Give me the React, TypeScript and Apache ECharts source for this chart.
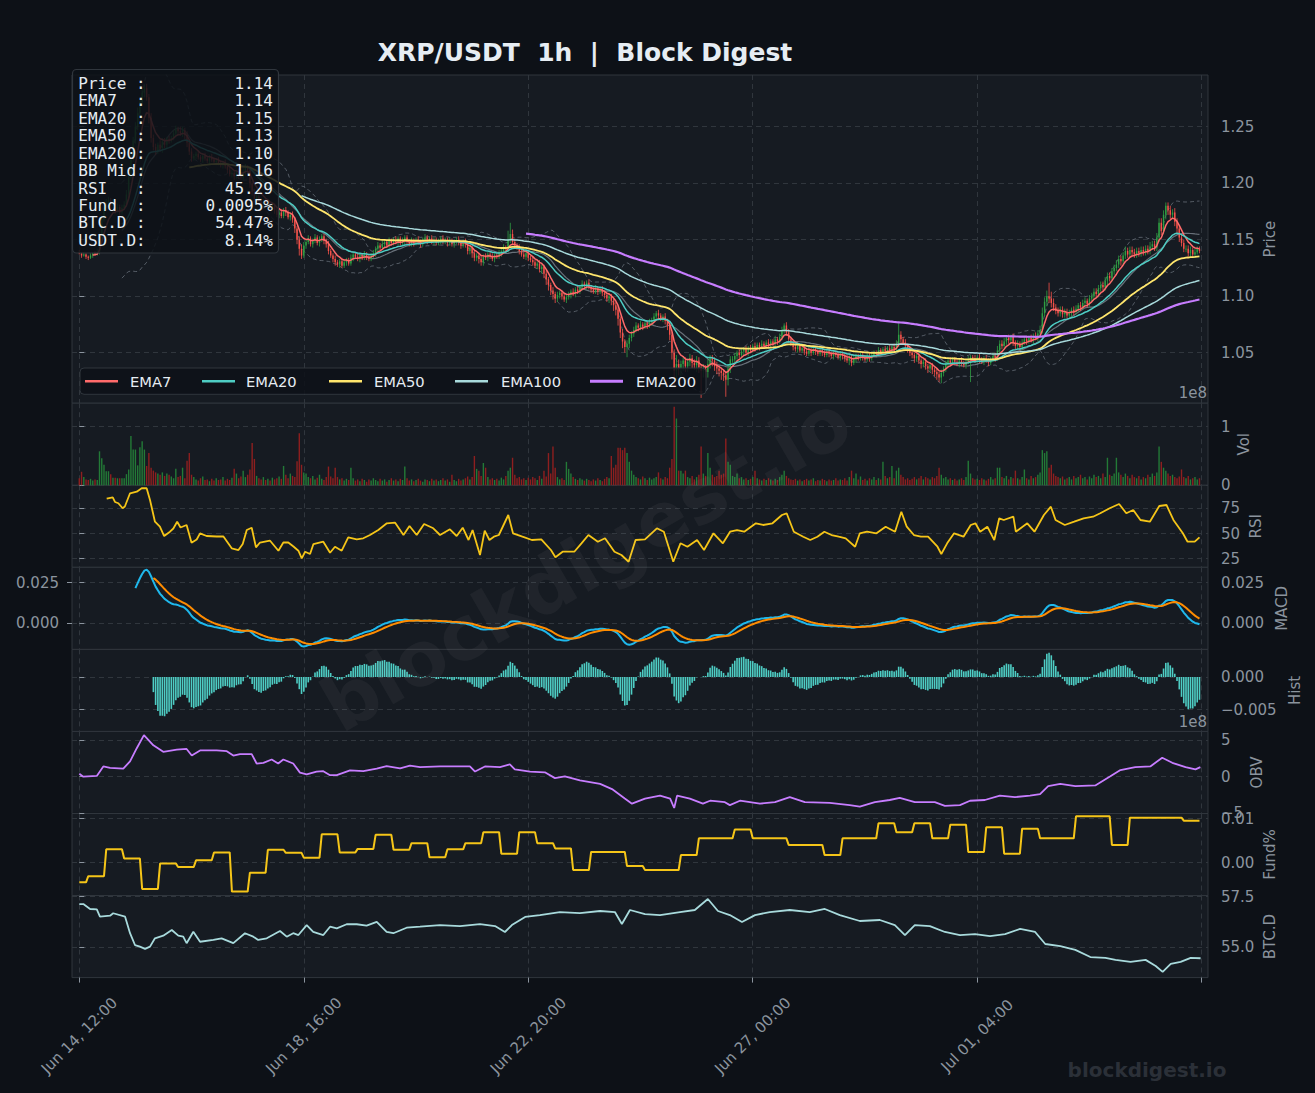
import React, { useEffect, useRef } from "react";
import * as echarts from "echarts";

// ---------------- DATA ----------------
const FIRST_OPEN = 1.139;

// hourly closes, Jun 14 12:00 onwards (index = hours)
const closes = [
  1.138, 1.136, 1.137, 1.135, 1.134, 1.136, 1.138, 1.137, 1.139, 1.152,
  1.168, 1.178, 1.182, 1.185, 1.18, 1.183, 1.176, 1.179, 1.174, 1.178,
  1.181, 1.19, 1.205, 1.222, 1.238, 1.25, 1.262, 1.272, 1.28, 1.284,
  1.276, 1.258, 1.24, 1.232, 1.229, 1.234, 1.231, 1.237, 1.234, 1.239,
  1.238, 1.24, 1.244, 1.248, 1.246, 1.244, 1.247, 1.243, 1.236, 1.228,
  1.222, 1.224, 1.226, 1.223, 1.221, 1.224, 1.222, 1.22, 1.223, 1.221,
  1.219, 1.22, 1.218, 1.216, 1.218, 1.215, 1.212, 1.208, 1.209, 1.206,
  1.21, 1.207, 1.205, 1.21, 1.214, 1.212, 1.2, 1.192, 1.186, 1.188,
  1.184, 1.182, 1.184, 1.18, 1.181, 1.178, 1.18, 1.176, 1.172, 1.174,
  1.171, 1.176, 1.174, 1.17, 1.172, 1.168, 1.16, 1.15, 1.142, 1.136,
  1.145, 1.148, 1.151, 1.146, 1.149, 1.152, 1.147, 1.15, 1.153, 1.149,
  1.146, 1.14, 1.136, 1.133, 1.13, 1.128, 1.131, 1.127, 1.13, 1.132,
  1.129, 1.134, 1.137, 1.135, 1.133, 1.136, 1.134, 1.137, 1.135, 1.133,
  1.136, 1.138, 1.142, 1.145, 1.143, 1.146, 1.148, 1.145, 1.149, 1.147,
  1.15, 1.148, 1.151, 1.147, 1.149, 1.152, 1.148, 1.146, 1.149, 1.147,
  1.15, 1.148, 1.146, 1.15, 1.152, 1.149, 1.151, 1.148, 1.15, 1.147,
  1.149, 1.151, 1.148, 1.15, 1.147, 1.149, 1.146, 1.148, 1.15, 1.147,
  1.145, 1.148, 1.146, 1.14, 1.143, 1.138, 1.134, 1.136, 1.133, 1.13,
  1.135, 1.134, 1.137, 1.135, 1.133, 1.136, 1.135, 1.138, 1.14, 1.143,
  1.142, 1.15, 1.155, 1.148, 1.145, 1.143, 1.14, 1.137, 1.135, 1.138,
  1.134, 1.132, 1.13, 1.127, 1.129, 1.124, 1.126, 1.12, 1.115, 1.11,
  1.105, 1.102, 1.098, 1.101, 1.103, 1.1, 1.097, 1.099, 1.101, 1.104,
  1.102, 1.106, 1.104, 1.108, 1.111, 1.109, 1.112, 1.108, 1.106, 1.104,
  1.107, 1.104, 1.106, 1.103, 1.101, 1.098, 1.1, 1.096, 1.092, 1.088,
  1.08, 1.068, 1.06, 1.055, 1.058, 1.063, 1.067, 1.07, 1.074, 1.072,
  1.075, 1.073, 1.076, 1.074, 1.077, 1.079, 1.082, 1.085, 1.083, 1.08,
  1.082, 1.078, 1.074, 1.066, 1.05, 1.034, 1.04, 1.036, 1.04, 1.043,
  1.038, 1.042, 1.045, 1.041, 1.039, 1.043, 1.037, 1.034, 1.036, 1.033,
  1.04, 1.045, 1.043, 1.038, 1.036, 1.034, 1.032, 1.03, 1.026, 1.036,
  1.044, 1.044, 1.047, 1.05, 1.048, 1.051, 1.053, 1.05, 1.054, 1.052,
  1.056, 1.054, 1.057, 1.055, 1.058, 1.056, 1.059, 1.057, 1.06, 1.058,
  1.062, 1.06, 1.064, 1.07, 1.074, 1.068, 1.062, 1.058, 1.055, 1.053,
  1.056, 1.052, 1.054, 1.051, 1.049, 1.052, 1.05, 1.053, 1.051, 1.049,
  1.052, 1.05, 1.048, 1.051, 1.049, 1.047, 1.05, 1.048, 1.046, 1.049,
  1.047, 1.045, 1.043, 1.046, 1.041, 1.044, 1.047, 1.045, 1.048, 1.046,
  1.044, 1.047, 1.045, 1.048, 1.05, 1.049, 1.052, 1.05, 1.053, 1.051,
  1.054, 1.052, 1.055, 1.053, 1.058, 1.066, 1.062, 1.059, 1.056, 1.053,
  1.05, 1.048, 1.045, 1.047, 1.043, 1.04, 1.042, 1.038, 1.036, 1.039,
  1.035, 1.033, 1.031, 1.028, 1.032, 1.036, 1.04, 1.043, 1.041, 1.044,
  1.042, 1.04, 1.043, 1.041, 1.039, 1.042, 1.044, 1.046, 1.045, 1.043,
  1.046, 1.044, 1.042, 1.045, 1.043, 1.041, 1.044, 1.047, 1.045, 1.052,
  1.058, 1.056, 1.06, 1.063, 1.061, 1.064, 1.059, 1.056, 1.058, 1.055,
  1.059, 1.062, 1.06, 1.063, 1.061, 1.065, 1.063, 1.067, 1.07, 1.085,
  1.095, 1.1, 1.098, 1.094, 1.09, 1.087, 1.085, 1.088, 1.084, 1.086,
  1.083, 1.085, 1.088, 1.086, 1.089, 1.092, 1.09, 1.094, 1.096, 1.093,
  1.098, 1.1, 1.104, 1.102, 1.107, 1.11, 1.108, 1.114, 1.118, 1.116,
  1.122, 1.125, 1.128, 1.133, 1.131, 1.136, 1.14, 1.137, 1.141, 1.139,
  1.137, 1.14, 1.138, 1.141, 1.139, 1.142, 1.14, 1.144, 1.146, 1.143,
  1.152, 1.165, 1.158, 1.172, 1.18, 1.176, 1.172, 1.174, 1.166, 1.16,
  1.152, 1.147, 1.142, 1.142, 1.138, 1.141, 1.137, 1.139, 1.142, 1.14,
];

// upper / lower wick length beyond the body, in 0.001
const wickHi = [
  2,1,2,1,1,2,1,2,3,4,3,2,4,3,2,3,2,3,2,3,
  3,4,3,4,3,4,5,4,4,3,4,3,4,3,3,2,4,3,3,2,
  3,2,3,3,2,4,3,2,3,2,3,2,2,3,2,2,3,2,2,3,
  2,2,3,2,2,3,2,2,3,2,2,3,3,4,3,2,3,2,3,2,
  2,3,2,3,2,2,3,2,2,3,3,2,3,2,2,3,2,2,3,4,
  3,2,3,2,2,3,2,3,2,2,2,3,2,2,3,2,2,3,2,2,
  2,3,2,2,3,2,2,3,2,2,2,3,2,3,2,3,2,2,3,2,
  2,3,2,2,3,2,2,2,3,2,2,3,2,2,3,2,2,3,2,2,
  2,2,3,2,2,3,2,2,2,3,2,2,3,2,2,2,3,2,2,3,
  2,3,2,2,3,2,2,3,2,3,2,8,10,4,3,2,3,2,2,3,
  2,2,3,2,2,3,2,2,3,2,2,3,2,3,2,2,3,2,3,2,
  3,2,3,2,3,2,2,3,2,2,3,2,2,3,2,2,3,2,2,3,
  3,2,3,2,3,3,2,3,3,2,3,2,3,2,3,2,3,2,3,2,
  2,3,2,3,2,3,8,4,3,4,3,3,4,3,3,4,3,3,4,3,
  4,3,3,3,4,3,3,3,3,4,3,3,3,2,3,3,2,3,2,3,
  2,3,2,2,3,2,2,3,2,2,3,2,3,3,2,3,3,2,2,3,
  2,2,3,2,2,3,2,2,3,2,2,3,2,2,3,2,2,2,3,2,
  2,2,3,2,2,3,2,2,2,3,2,2,3,2,2,2,3,2,2,3,
  2,3,2,3,3,10,3,2,3,2,2,3,2,2,3,2,2,3,2,2,
  2,2,3,2,3,2,3,2,3,2,2,3,2,3,2,2,3,2,2,3,
  2,3,2,2,3,2,2,3,3,4,3,3,3,2,3,2,3,2,3,2,
  3,2,3,2,3,2,3,3,4,5,4,5,12,6,4,3,3,3,3,3,
  3,3,2,3,3,2,3,3,3,2,3,3,3,3,3,3,3,3,3,3,
  3,3,4,3,3,3,4,3,3,3,3,3,3,3,3,3,3,4,3,3,
  4,4,4,4,3,3,4,3,4,3,3,3,3,3,3,3,2,3,2,2,
];
const wickLo = [
  1,2,1,2,2,1,2,1,1,2,3,2,2,3,4,2,3,2,3,2,
  2,2,3,2,3,3,3,4,3,4,3,5,4,3,4,3,3,4,3,3,
  3,2,2,3,3,2,3,4,4,3,3,2,3,2,2,3,2,2,3,2,
  2,3,2,2,3,2,3,2,3,3,2,3,2,2,3,4,4,3,3,2,
  3,2,3,2,3,2,2,3,2,3,2,2,3,2,3,3,4,4,6,3,
  2,3,2,2,3,2,2,3,2,3,3,3,2,3,3,2,3,2,2,3,
  2,2,3,2,2,3,2,2,3,2,2,2,3,2,2,2,3,2,2,2,
  2,2,3,2,2,3,2,2,2,3,2,2,3,2,2,3,2,2,3,2,
  2,3,2,2,3,2,2,3,2,2,3,2,3,3,3,4,3,3,4,3,
  3,2,3,2,2,3,2,2,3,2,2,3,3,2,3,2,3,2,2,3,
  3,2,3,2,3,3,4,4,5,5,4,5,4,3,3,3,2,3,2,3,
  2,3,2,2,3,2,3,2,3,2,2,3,2,3,3,3,4,4,5,5,
  6,5,6,5,9,4,3,3,2,3,2,3,2,3,2,3,2,3,3,2,
  3,3,4,5,6,15,8,6,7,6,5,5,4,5,4,6,5,24,6,5,
  5,4,5,4,5,5,6,5,15,5,4,3,3,3,3,2,3,2,3,2,
  2,3,2,3,2,2,3,2,3,2,2,3,2,3,3,3,3,2,3,2,
  3,2,2,3,2,2,3,2,3,2,2,3,2,2,3,2,3,2,2,3,
  3,3,2,4,3,2,3,2,2,3,2,2,3,2,2,3,2,2,2,3,
  2,2,3,2,2,3,3,2,3,3,3,3,4,3,3,4,3,3,4,3,
  4,4,5,4,5,3,3,3,3,2,3,2,3,3,2,3,2,20,3,2,
  2,3,2,3,2,3,2,2,3,2,3,3,3,3,3,3,3,3,3,3,
  3,2,3,2,2,3,2,3,2,3,3,4,4,4,3,3,3,3,3,3,
  3,2,3,3,2,3,3,2,3,3,2,3,3,3,3,3,3,3,4,3,
  3,3,3,3,4,3,3,3,3,3,3,3,3,3,3,3,3,3,3,3,
  3,4,4,3,4,4,4,3,4,4,4,3,3,3,3,3,3,3,2,2,
];

// hourly volume, millions of XRP
const volumesM = [
  12,23,14,10,9,11,8,10,9,58,46,35,24,24,19,13,13,12,12,12,
  12,19,27,84,61,61,34,65,75,61,33,55,30,25,22,20,18,22,16,20,
  18,15,12,28,14,16,30,12,42,55,18,14,10,8,12,15,9,10,7,11,
  8,12,9,10,14,8,11,9,13,28,20,12,15,25,14,18,27,72,45,16,
  12,10,14,9,11,8,13,10,12,15,11,33,18,12,20,16,14,41,89,35,
  22,20,14,12,16,10,13,18,11,9,14,32,15,12,30,14,10,12,8,11,
  9,30,12,8,10,7,11,9,6,10,8,12,9,7,11,8,10,6,9,12,
  8,10,7,11,9,32,12,8,10,7,9,11,8,6,10,9,7,11,8,10,
  7,9,12,8,10,6,18,9,7,11,8,10,12,15,10,14,50,28,25,16,
  38,30,14,10,12,9,11,8,13,10,16,25,30,47,18,12,14,10,12,9,
  13,10,14,12,9,16,11,25,15,55,20,66,30,14,10,12,9,40,28,20,
  14,11,9,12,10,8,11,9,7,10,8,12,9,7,11,14,12,50,30,35,
  64,64,60,64,55,40,25,18,14,12,10,15,12,9,13,10,12,14,22,12,
  10,14,12,30,45,134,114,25,25,20,25,14,12,16,10,14,18,66,20,16,
  55,30,18,14,16,25,18,20,80,40,35,16,14,20,12,14,10,12,9,11,
  14,25,12,10,8,11,9,12,10,8,11,9,14,18,25,16,12,10,9,11,
  8,10,7,9,11,8,10,12,7,9,8,11,9,7,10,8,9,12,8,10,
  9,12,8,14,25,12,20,10,15,9,11,8,12,10,14,9,12,10,40,16,
  12,14,33,12,25,30,18,14,10,12,9,11,14,10,12,16,10,14,12,10,
  14,12,16,30,18,12,14,10,12,9,11,8,10,12,9,14,42,20,12,10,
  11,9,12,10,8,11,14,10,12,30,30,14,12,16,10,14,12,25,12,10,
  14,27,12,10,16,12,14,18,22,60,55,58,30,35,20,16,14,12,15,10,
  12,14,10,16,12,14,18,12,14,10,15,12,18,14,16,12,20,14,47,18,
  16,20,47,22,18,14,20,16,12,18,14,12,16,10,14,12,18,14,20,16,
  22,66,40,30,25,20,16,18,14,12,15,27,14,12,16,10,12,14,10,12,
];

// RSI(14): [hour, value]
const rsiPoints = [
  [12.2,84.8],[14.9,86.2],[15.9,81.5],[17.4,80.2],[19.3,75.2],[20.3,77],[22.6,90.2],[25.6,91.8],[27.8,95.2],[30,95.2],
  [31.5,83.5],[33.7,61.8],[35.9,56.8],[37.8,47.5],[40.4,51.8],[41.9,55],[43.6,61.8],[45.1,56],[47.8,58.5],[50,40.8],
  [52.3,44],[53.8,50.2],[56.7,47.5],[61.2,47],[64.2,47],[67.9,35.2],[70.9,33.5],[72.8,39.5],[74.6,53.5],[76.8,55.8],
  [78.7,36.2],[80.5,41],[84.9,43],[88.7,32.8],[90.9,41],[93.1,41],[95.4,37],[97.6,32.8],[99.1,25.2],[100.6,31.8],
  [102.8,29.5],[104.3,39.5],[108.7,41.8],[111.7,30.8],[113.9,36.8],[116.9,32.8],[119.8,46.2],[123.6,44.2],[126.5,45.2],[129.5,48.5],
  [133.2,53.5],[137,60.2],[140.7,60.8],[144.4,48.5],[147.1,57.5],[150.3,48.5],[153.6,59.5],[157.7,55.2],[160.7,48.5],[165.1,54.2],
  [168.1,47.5],[170.8,55.8],[173.4,43.5],[175.2,53.5],[178.5,28.5],[180.6,52.8],[182.7,43.5],[184.7,46.8],[186.9,48.5],[191.1,68.5],
  [193.2,50.2],[197.4,46.8],[201.6,43.5],[205.8,44.2],[210.1,33.5],[212.1,26.2],[215.3,31.8],[220.5,31.8],[223.7,40.2],[226.8,48.5],
  [231,41.8],[234.2,45.2],[238.4,31.8],[241.5,28.5],[244.7,21.8],[247.8,43.5],[252,44.2],[257.3,55.2],[260.4,51.8],[264.6,21.8],
  [267.8,40.2],[270.9,36.8],[275.2,43.5],[278.3,33.5],[282.5,50.2],[286.7,40.2],[289.9,51.8],[293,53.5],[296.2,51.8],[301.4,60.2],
  [304.6,58.5],[308.8,60.2],[313,68.5],[315.1,70.2],[318.3,51.8],[322.5,46.8],[325.6,43.5],[328.8,46.8],[331.9,51.8],[335.1,48.5],
  [338.3,46.8],[341.4,45.2],[345.6,36.8],[347.7,50.2],[350.9,51.8],[355.1,50.2],[359.2,56.8],[363.4,51.8],[366.2,71.8],[368.6,56.8],
  [371.8,48.5],[374.9,46.8],[378.1,46.8],[382.3,36.8],[384,29.5],[386.6,40.2],[389.7,50.2],[393.9,46.8],[397.1,58.5],[399.2,60.2],
  [401.3,51.8],[404.5,56.8],[407.6,43.5],[409.8,65.2],[411.8,63.5],[416.1,66.8],[417.2,51.8],[422.3,60.2],[425.5,51.8],[429.7,68.5],
  [432.8,76.8],[434.9,63.5],[439,58.5],[443.2,61.8],[447.4,65.2],[451.6,66.8],[454.8,70.2],[459,75.2],[463.2,79.5],[466.4,70.2],
  [469.5,73.5],[472.7,63.5],[476.9,61.8],[481.1,77.5],[484.3,78.5],[487.4,63.5],[491.6,50.2],[493.7,41.8],[496.9,41.8],[499,46.2],
];

// OBV: [hour, value in 1e8]
const obvPoints = [
  [0,0.4],[1.8,0],[7.8,0.1],[10.7,1.4],[13.7,1.2],[19.6,1.1],[22.6,2.1],[25.6,3.9],[28.8,5.7],[33,4.3],
  [37.4,3.4],[43.4,3.7],[47.8,3.8],[50.1,2.9],[53.8,3.6],[61.2,3.6],[65.7,3.5],[68.6,2.9],[71.6,3.1],[76.8,3.1],
  [79,1.8],[82,1.9],[85.7,2.35],[88.6,1.8],[90.9,2.35],[95.3,1.8],[98.3,0.55],[101.3,0.3],[105.7,0.7],[108.7,0.75],
  [111.7,0.2],[114.7,0.2],[120.6,0.85],[126.5,0.75],[132.5,1.1],[136.9,1.45],[142.9,1.15],[147.3,1.5],[151.8,1.3],[160.7,1.4],
  [174,1.4],[176.3,0.7],[180.7,1.4],[187.4,1.3],[191.8,1.7],[194,1.0],[200.8,0.7],[207.4,0.6],[211.9,-0.2],[216.3,0.05],
  [223,-0.5],[232,-1.0],[237.3,-1.7],[243,-3.0],[246.2,-3.7],[252,-3.0],[258.7,-2.6],[263.2,-3.0],[265,-4.3],[266.3,-2.6],
  [272,-3.0],[277.8,-3.7],[281,-3.3],[287.6,-3.5],[289.8,-3.9],[294.3,-3.3],[303.2,-3.7],[309.9,-3.5],[316.5,-2.8],[323.2,-3.5],
  [334.3,-3.6],[343.2,-3.9],[347.7,-4.1],[354.4,-3.5],[361,-3.2],[365.5,-2.9],[372.2,-3.5],[381.1,-3.5],[385.6,-4.0],[392.3,-3.9],
  [396.8,-3.3],[403.4,-3.2],[410.1,-2.6],[416.8,-2.8],[423.5,-2.6],[428,-2.4],[431.6,-1.3],[437,-1.0],[443.7,-1.3],[452.6,-1.2],
  [459.3,0.05],[463.8,0.9],[470.4,1.3],[477.1,1.4],[482.4,2.6],[486.9,1.9],[492.8,1.3],[497.2,1.0],[499.4,1.3],
];

// BTC dominance: [hour, %]
const btcdPoints = [
  [0,57.13],[1.8,57.13],[4.8,56.89],[7.8,56.87],[9.2,56.51],[13.7,56.56],[15.1,56.68],[20.4,56.51],[22.6,55.7],[24.8,55.12],
  [27,55.04],[29.3,54.93],[31.5,55.04],[33.7,55.45],[37.4,55.58],[41.2,55.86],[44.1,55.58],[46.3,55.53],[47.8,55.21],[50.8,55.77],
  [53.8,55.28],[59.7,55.37],[63.4,55.45],[68.6,55.21],[73.8,55.7],[77.5,55.53],[79.7,55.37],[83.5,55.45],[89.4,55.81],[92.4,55.53],
  [95.3,55.7],[97.6,55.61],[101.3,56.1],[104.2,55.77],[108.7,55.61],[111.7,56.02],[114.7,55.94],[119.1,56.14],[123.6,56.14],[128,56.07],
  [132.5,56.26],[136.9,55.77],[139.9,55.7],[145.8,55.97],[151.8,56.02],[160.7,56.1],[169.6,56.05],[178.5,56.15],[185.2,56.05],[189.6,55.76],
  [192.7,56.1],[198.6,56.5],[205.2,56.59],[214.1,56.74],[223,56.69],[232,56.79],[238.6,56.74],[241.7,56.15],[245.3,56.84],[252,56.64],
  [258.7,56.59],[267.6,56.74],[274.2,56.84],[280,57.38],[284.5,56.79],[289.8,56.59],[295.2,56.25],[301,56.59],[307.6,56.74],[316.5,56.84],
  [325.4,56.74],[332.1,56.89],[338.8,56.59],[347.7,56.3],[356.6,56.35],[363.3,56.1],[367.8,55.61],[372.2,56.1],[378.9,56.05],[385.6,55.76],
  [392.3,55.61],[399,55.66],[405.7,55.56],[412.4,55.66],[419.1,55.91],[425.8,55.76],[430.3,55.17],[437,55.07],[443.7,54.88],[450.4,54.53],
  [457.1,54.49],[461.6,54.39],[468.3,54.29],[475,54.39],[479.5,54.09],[482.6,53.8],[486.2,54.19],[490.6,54.29],[495.1,54.49],[499.5,54.47],
];

// funding rate (%) per 8-hour funding window
const fundSlots = [
  -0.0045, -0.0031, 0.003, 0.0009, -0.006, -0.0002, -0.001, 0.0005, 0.0023, -0.0066,
  -0.0023, 0.0029, 0.0022, 0.0011, 0.0064, 0.0023, 0.0031, 0.0063, 0.0029, 0.0044,
  0.0012, 0.003, 0.0044, 0.0069, 0.002, 0.0069, 0.0044, 0.0032, -0.0017, 0.0024,
  0.0024, -0.0008, -0.0017, -0.0017, 0.0017, 0.0055, 0.0055, 0.0075, 0.0055, 0.0055,
  0.004, 0.004, 0.0017, 0.0055, 0.0055, 0.0089, 0.0069, 0.0089, 0.0055, 0.0086,
  0.0024, 0.008, 0.002, 0.0077, 0.0055, 0.0055, 0.0105, 0.0105, 0.004, 0.0102,
  0.0102, 0.0102, 0.0095,
];

const xTickValues = [0, 100, 200, 300, 400, 500];
const xTickLabels = ["Jun 14, 12:00", "Jun 18, 16:00", "Jun 22, 20:00", "Jun 27, 00:00", "Jul 01, 04:00"];
const infoNames = ["Price", "EMA7", "EMA20", "EMA50", "EMA200", "BB Mid", "RSI", "Fund", "BTC.D", "USDT.D"];
const infoValues = ["1.14", "1.14", "1.15", "1.13", "1.10", "1.16", "45.29", "0.0095%", "54.47%", "8.14%"];
const legendNames = ["EMA7", "EMA20", "EMA50", "EMA100", "EMA200"];
const TITLE = "XRP/USDT  1h  |  Block Digest";
const WATERMARK = "blockdigest.io";

// ---------------- STYLE ----------------
const FONT = '"DejaVu Sans", sans-serif';
const MONO = '"DejaVu Sans Mono", monospace';
const C = {
  fig: "#0d1117",
  panel: "#161b22",
  border: "#30363d",
  grid: "#30363d",
  text: "#8b949e",
  white: "#e6edf3",
  up: "#2ea043",
  down: "#f85149",
  volUp: "#237a37",
  volDown: "#8e1f1f",
  ema: ["#ff6b6b", "#4ecdc4", "#ffe66d", "#a8dadc", "#c77dff"],
  bb: "#8b949e",
  macd: "#1fb8ec",
  signal: "#ff8c00",
  hist: "#4ecdc4",
  rsi: "#f5c518",
  obv: "#c77dff",
  fund: "#f5c518",
  btcd: "#a8dadc",
};

// ---------------- HELPERS ----------------
function ema(src: (number | null)[], span: number, minPeriods = span) {
  const a = 2 / (span + 1);
  let prev: number | null = null;
  let count = 0;
  return src.map((v) => {
    if (v == null) return null;
    prev = prev == null ? v : a * v + (1 - a) * prev;
    count++;
    return count >= minPeriods ? prev : null;
  });
}
function pairs(arr: (number | null)[]) {
  const out: number[][] = [];
  arr.forEach((v, i) => {
    if (v != null && isFinite(v)) out.push([i, v]);
  });
  return out;
}
const minus = (s: string) => s.replace("-", "\u2212");

function buildOption() {
  const opens = closes.map((c, i) => (i === 0 ? FIRST_OPEN : closes[i - 1]));
  const highs = closes.map((c, i) => Math.max(opens[i], c) + (wickHi[i] || 0) * 0.001);
  const lows = closes.map((c, i) => Math.min(opens[i], c) - (wickLo[i] || 0) * 0.001);
  const spans = [7, 20, 50, 100, 200];
  const emas = spans.map((s) => ema(closes, s));
  const bbMid: (number | null)[] = [];
  const bbUp: (number | null)[] = [];
  const bbLo: (number | null)[] = [];
  closes.forEach((_, i) => {
    if (i < 19) {
      bbMid.push(null); bbUp.push(null); bbLo.push(null);
      return;
    }
    const w = closes.slice(i - 19, i + 1);
    const m = w.reduce((a, b) => a + b, 0) / w.length;
    const sd = Math.sqrt(w.reduce((a, b) => a + (b - m) * (b - m), 0) / (w.length - 1));
    bbMid.push(m); bbUp.push(m + 2 * sd); bbLo.push(m - 2 * sd);
  });
  const fast = ema(closes, 12);
  const slow = ema(closes, 26);
  const macd = closes.map((_, i) => (fast[i] != null && slow[i] != null ? (fast[i] as number) - (slow[i] as number) : null));
  const signal = ema(macd, 9);
  const hist = macd.map((m, i) => (m != null && signal[i] != null ? m - (signal[i] as number) : null));
  const fundHourly = closes.map((_, i) => [i, fundSlots[Math.min(fundSlots.length - 1, Math.floor((i + 4) / 8))]]);

  // layout
  const LEFT = 72, RIGHT = 1208, TOP = 75, BOTTOM = 977.6;
  const ratios = [4, 1, 1, 1, 1, 1, 1, 1];
  const unit = (BOTTOM - TOP) / ratios.reduce((a, b) => a + b, 0);
  const tops: number[] = [];
  let acc = TOP;
  ratios.forEach((r) => { tops.push(acc); acc += r * unit; });
  const grids = ratios.map((r, k) => ({
    left: LEFT, top: tops[k], width: RIGHT - LEFT, height: r * unit,
    show: true, backgroundColor: C.panel, borderColor: C.border, borderWidth: 1,
  }));

  const dashed = { color: C.grid, type: [5, 4], width: 1 };
  const last = ratios.length - 1;
  const xAxes = ratios.map((_, k) => ({
    type: "value", gridIndex: k, min: -3.25, max: 502.8, minInterval: 100, maxInterval: 100,
    axisLine: { show: false },
    axisTick: { show: k === last, length: 5, lineStyle: { color: C.text }, customValues: xTickValues },
    axisLabel: {
      show: k === last, rotate: 45, align: "center", verticalAlign: "middle", margin: 58,
      color: C.text, fontSize: 15, fontFamily: FONT,
      customValues: xTickValues.slice(0, xTickLabels.length),
      formatter: (v: number) => {
        const idx = Math.round(v / 100);
        if (Math.abs(v - idx * 100) > 1e-6) return "";
        return xTickLabels[idx] ?? "";
      },
    },
    splitLine: { show: true, lineStyle: dashed },
  }));

  const panels = [
    { name: "Price", min: 1.0053, max: 1.2958, iv: 0.05, fmt: (v: number) => v.toFixed(2), gap: 54.5 },
    { name: "Vol", min: 0, max: 1.401, iv: 1, fmt: (v: number) => v.toFixed(0), gap: 28.5 },
    { name: "RSI", min: 16.2, max: 98.2, iv: 25, fmt: (v: number) => v.toFixed(0), gap: 40.5 },
    { name: "MACD", min: -0.01603, max: 0.0344, iv: 0.025, fmt: (v: number) => v.toFixed(3), gap: 66.5 },
    { name: "Hist", min: -0.00834, max: 0.00423, iv: 0.005, fmt: (v: number) => minus(v.toFixed(3)), gap: 79.5 },
    { name: "OBV", min: -5.05, max: 6.2, iv: 5, fmt: (v: number) => minus(v.toFixed(0)), gap: 41.5 },
    { name: "Fund%", min: -0.0075, max: 0.01114, iv: 0.01, fmt: (v: number) => v.toFixed(2), gap: 54.5 },
    { name: "BTC.D", min: 53.52, max: 57.55, iv: 2.5, fmt: (v: number) => v.toFixed(1), gap: 54.5 },
  ];
  const tickList = (p: any) => {
    const out: number[] = [];
    for (let k = Math.ceil(p.min / p.iv - 1e-9); k * p.iv <= p.max + 1e-12; k++) out.push(+(k * p.iv).toFixed(6));
    return out;
  };
  const mkY = (p: any, k: number, position: string, withName: boolean, split: boolean) => ({
    type: "value", gridIndex: k, position, min: p.min, max: p.max, minInterval: p.iv, maxInterval: p.iv,
    name: withName ? p.name : "", nameLocation: "middle", nameGap: p.gap, nameRotate: 90, nameMoveOverlap: false,
    nameTextStyle: { color: C.text, fontSize: 15, fontFamily: FONT },
    axisLine: { show: false },
    axisTick: { show: true, length: 5, lineStyle: { color: C.text }, customValues: tickList(p) },
    axisLabel: {
      color: C.text, fontSize: 15, fontFamily: FONT, margin: 13,
      customValues: tickList(p),
      formatter: (v: number) => {
        const q = v / p.iv;
        if (Math.abs(q - Math.round(q)) > 1e-6) return "";
        const vv = Math.round(q) * p.iv;
        return p.fmt(Math.abs(vv) < 1e-12 ? 0 : vv);
      },
    },
    splitLine: { show: split, lineStyle: dashed },
  });
  const yAxes: any[] = panels.map((p, k) => mkY(p, k, "right", true, true));
  yAxes.push(mkY(panels[3], 3, "left", false, false));

  const line = (data: any, color: string, width: number, xi: number, z = 3, extra: any = {}) => ({
    type: "line", data, xAxisIndex: xi, yAxisIndex: xi, showSymbol: false, symbol: "none",
    lineStyle: { color, width, ...extra }, z, silent: true, animation: false,
  });

  const candleData = closes.map((c, i) => [i, opens[i], c, lows[i], highs[i]]);
  const series: any[] = [
    line(pairs(bbUp), C.bb, 1, 0, 1, { type: [4, 3], opacity: 0.55 }),
    line(pairs(bbLo), C.bb, 1, 0, 1, { type: [4, 3], opacity: 0.55 }),
    line(pairs(bbMid), C.bb, 1.2, 0, 1, { opacity: 0.7 }),
    {
      type: "custom", xAxisIndex: 0, yAxisIndex: 0, data: candleData, z: 2, clip: true, silent: true,
      encode: { x: 0, y: [1, 2, 3, 4] },
      renderItem: (params: any, api: any) => {
        const x = api.value(0), o = api.value(1), c = api.value(2), l = api.value(3), h = api.value(4);
        const pO = api.coord([x, o]);
        const pC = api.coord([x, c]);
        const pL = api.coord([x, l]);
        const pH = api.coord([x, h]);
        const color = c >= o ? C.up : C.down;
        const w = 1.4;
        const top = Math.min(pO[1], pC[1]);
        const hgt = Math.max(Math.abs(pO[1] - pC[1]), 0.8);
        return {
          type: "group",
          children: [
            { type: "line", shape: { x1: pH[0], y1: pH[1], x2: pL[0], y2: pL[1] }, style: { stroke: color, lineWidth: 0.8 } },
            { type: "rect", shape: { x: pO[0] - w / 2, y: top, width: w, height: hgt }, style: { fill: color } },
          ],
        };
      },
    },
    ...emas.map((e, k) => line(pairs(e), C.ema[k], k === 4 ? 2.2 : k === 2 ? 1.8 : 1.5, 0, 4 + k)),
    {
      type: "bar", xAxisIndex: 1, yAxisIndex: 1, barWidth: 1.4, silent: true, animation: false,
      data: volumesM.map((v, i) => ({
        value: [i, v / 100],
        itemStyle: { color: closes[i] >= opens[i] ? C.volUp : C.volDown },
      })),
    },
    line(rsiPoints, C.rsi, 1.8, 2),
    line(pairs(macd), C.macd, 2, 3),
    line(pairs(signal), C.signal, 2, 3),
    {
      type: "bar", xAxisIndex: 4, yAxisIndex: 4, barWidth: 1.6, silent: true, animation: false,
      itemStyle: { color: C.hist }, data: pairs(hist),
    },
    line(obvPoints, C.obv, 1.8, 5),
    line(fundHourly, C.fund, 2, 6),
    line(btcdPoints, C.btcd, 1.8, 7),
  ];

  // graphics
  const txt = (text: string, x: number, y: number, o: any = {}) => ({
    type: "text", x, y, z: 100, silent: true,
    style: {
      text, x: 0, y: 0, fill: o.fill ?? C.white, fontSize: o.size ?? 14.5, fontFamily: o.family ?? FONT,
      fontWeight: o.weight ?? "normal", align: o.align ?? "left", textAlign: o.align ?? "left",
      verticalAlign: "middle", textVerticalAlign: "middle", opacity: o.opacity ?? 1,
    },
    rotation: o.rotation ?? 0,
  });
  const graphics: any[] = [];
  graphics.push(txt(TITLE, 585, 52, { size: 25, weight: "bold", align: "center", fill: C.white }));
  // info box
  graphics.push({
    type: "rect", z: 99, silent: true,
    shape: { x: 72.5, y: 69.5, width: 206, height: 183.5, r: 4 },
    style: { fill: "rgba(13,17,23,0.86)", stroke: C.border, lineWidth: 1.2 },
  });
  const rowY0 = 83.3, rowDy = 17.45, charW = 9.63;
  infoNames.forEach((n, k) => {
    const y = rowY0 + k * rowDy;
    graphics.push(txt(n, 78.3, y, { family: MONO, size: 16 }));
    graphics.push(txt(":", 78.3 + 6 * charW, y, { family: MONO, size: 16 }));
    graphics.push(txt(infoValues[k], 273, y, { family: MONO, size: 16, align: "right" }));
  });
  // legend
  graphics.push({
    type: "rect", z: 99, silent: true,
    shape: { x: 80, y: 368, width: 626, height: 26.3, r: 4 },
    style: { fill: "rgba(13,17,23,0.85)", stroke: C.border, lineWidth: 1 },
  });
  const legLineX = [85, 202, 329, 455, 590];
  const legTextX = [130, 246, 374, 501, 636];
  legendNames.forEach((n, k) => {
    graphics.push({
      type: "line", z: 100, silent: true,
      shape: { x1: legLineX[k], y1: 381.2, x2: legLineX[k] + 33, y2: 381.2 },
      style: { stroke: C.ema[k], lineWidth: k === 4 ? 3 : 2.5 },
    });
    graphics.push(txt(n, legTextX[k], 381.5, { fill: C.white, size: 14.7 }));
  });
  // scale offset texts
  graphics.push(txt("1e8", 1207, 392.5, { fill: C.text, align: "right", size: 15 }));
  graphics.push(txt("1e8", 1207, 721.5, { fill: C.text, align: "right", size: 15 }));
  // watermarks
  graphics.push(txt(WATERMARK, 586, 563, { size: 75, weight: "bold", align: "center", fill: "rgba(255,255,255,0.045)", rotation: Math.PI / 6 }));
  graphics.push(txt(WATERMARK, 1147, 1070, { size: 20, weight: "bold", align: "center", fill: "#2b3038" }));

  return {
    animation: false,
    backgroundColor: C.fig,
    textStyle: { fontFamily: FONT },
    grid: grids,
    xAxis: xAxes,
    yAxis: yAxes,
    series,
    graphic: { elements: graphics },
  };
}

export default function App() {
  const ref = useRef<HTMLDivElement>(null);
  useEffect(() => {
    if (!ref.current) return;
    const chart = echarts.init(ref.current, null, { renderer: "svg" });
    chart.setOption(buildOption() as any);
    return () => chart.dispose();
  }, []);
  return (
    <div
      ref={ref}
      style={{ position: "fixed", left: 0, top: 0, width: 1315, height: 1093, background: "#0d1117" }}
    />
  );
}
